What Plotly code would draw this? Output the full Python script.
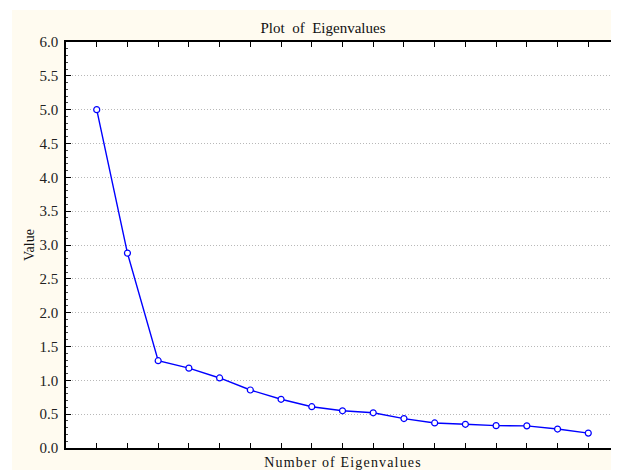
import plotly.graph_objects as go

# Data
eigen_number = list(range(1, 18))
eigen_values = [5.00, 2.88, 1.29, 1.18, 1.035, 0.857, 0.72, 0.61, 0.55,
                0.52, 0.435, 0.37, 0.35, 0.33, 0.327, 0.28, 0.22]
y_ticks = [0.0, 0.5, 1.0, 1.5, 2.0, 2.5, 3.0, 3.5, 4.0, 4.5, 5.0, 5.5, 6.0]
y_tick_text = [f"{v:.1f}" for v in y_ticks]
x_title = "Number of Eigenvalues"
y_title = "Value"
chart_title = "Plot  of  Eigenvalues"

# The page body adds an 8px margin, so the figure is sized to the remaining view
W, H = 611, 462
L, R, T, B = 58, 0, 34, 22
CREAM = "#fffbf0"
FONT = "Liberation Serif"


def spaced(s):
    # slight letter spacing, as in the reference axis title
    return "\u200a".join(s)


fig = go.Figure()
fig.add_trace(go.Scatter(
    x=eigen_number, y=eigen_values, mode="lines+markers",
    line=dict(color="#0000ff", width=1.4),
    marker=dict(symbol="circle", size=6, color="white",
                line=dict(color="#0000ff", width=1.2)),
    showlegend=False, hoverinfo="x+y",
))

axis_font = dict(family=FONT, size=15, color="#222222")

fig.update_layout(
    width=W, height=H,
    margin=dict(l=L, r=R, t=T, b=B, pad=0, autoexpand=False),
    paper_bgcolor=CREAM, plot_bgcolor="white",
    font=dict(family=FONT, color="#111111"),
    title=dict(text=chart_title, x=315 / W, xref="container",
               xanchor="center", y=1 - 20 / H, yref="container", yanchor="middle",
               automargin=False,
               font=dict(family=FONT, size=15, color="#111111")),
    xaxis=dict(range=[0, 18], tickvals=eigen_number, showticklabels=False,
               ticks="inside", ticklen=5, tickwidth=1, tickcolor="black",
               showline=True, linecolor="black", linewidth=1.5, mirror="ticks",
               showgrid=False, zeroline=False, fixedrange=True, automargin=False,
               title=dict(text=spaced(x_title), standoff=8,
                          font=dict(family=FONT, size=14, color="#111111"))),
    yaxis=dict(range=[0, 6], tickvals=y_ticks, ticktext=y_tick_text,
               ticks="inside", ticklen=5, tickwidth=1, tickcolor="black",
               showline=True, linecolor="black", linewidth=1.5, mirror=False,
               showgrid=True, gridcolor="#b8b8b8", griddash="1px,2px", gridwidth=1,
               zeroline=False, tickfont=axis_font, ticklabelstandoff=3,
               minor=dict(dtick=0.1, ticks="inside", ticklen=2, tickcolor="#444444",
                          showgrid=False),
               fixedrange=True, automargin=False,
               title=dict(text=y_title, standoff=2,
                          font=dict(family=FONT, size=14, color="#111111"))),
    yaxis2=dict(range=[0, 6], overlaying="y", side="right", anchor="x",
                tickvals=y_ticks, showticklabels=False,
                ticks="inside", ticklen=5, tickwidth=1, tickcolor="black",
                showline=False, showgrid=False, zeroline=False,
                minor=dict(dtick=0.1, ticks="inside", ticklen=2, tickcolor="#888888",
                           showgrid=False),
                fixedrange=True, automargin=False),
)

# thin white strips at top and left of the frame (as in the reference)
pw, ph = W - L - R, H - T - B
fig.update_layout(shapes=[
    dict(type="rect", xref="paper", yref="paper", layer="below",
         x0=-L / pw, x1=1.0, y0=1 + (T - 2) / ph, y1=1 + T / ph,
         fillcolor="white", line=dict(width=0)),
    dict(type="rect", xref="paper", yref="paper", layer="below",
         x0=-L / pw, x1=-(L - 4) / pw, y0=-B / ph, y1=1 + T / ph,
         fillcolor="white", line=dict(width=0)),
])

fig.write_html("out.html", config={"displayModeBar": False})
